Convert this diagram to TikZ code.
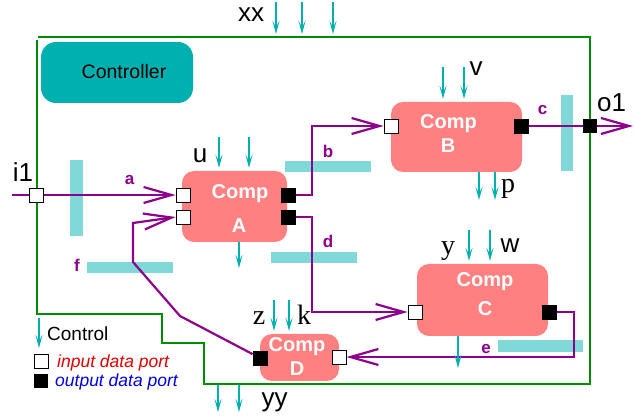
\documentclass[tikz,border=0pt]{standalone}
\usepackage{fontspec}
\setmainfont{Liberation Sans}
\newfontfamily\seriffont{Liberation Serif}
\usetikzlibrary{arrows.meta,backgrounds}
\definecolor{dpurple}{RGB}{140,0,140}
\definecolor{compfill}{RGB}{255,128,128}
\definecolor{ctrlcyan}{RGB}{0,176,176}
\definecolor{barcyan}{RGB}{128,216,216}
\definecolor{bordergreen}{RGB}{0,140,0}
\definecolor{legred}{RGB}{220,0,0}
\definecolor{legblue}{RGB}{0,0,220}
\begin{document}
\begin{tikzpicture}[x=1pt,y=-1pt,
  comp/.style={fill=compfill, rounded corners=12pt, inner sep=0pt},
  port/.style={draw=black, line width=0.8pt, minimum size=14pt, inner sep=0pt, fill=white},
  oport/.style={port, fill=black},
  data/.style={draw=dpurple, line width=2.2pt},
  darrow/.style={data, -{Straight Barb[length=28pt,width=16pt]}},
  ctrl/.style={draw=ctrlcyan, line width=1.6pt, -{Stealth[length=13pt,width=7pt,inset=6pt]}},
  bar/.style={fill=barcyan},
  lbl/.style={font=\fontsize{26pt}{28pt}\selectfont, anchor=base, inner sep=0pt},
  slbl/.style={font=\seriffont\fontsize{28pt}{30pt}\selectfont, anchor=base, inner sep=0pt},
  dlbl/.style={font=\bfseries\fontsize{17pt}{19pt}\selectfont, text=dpurple, anchor=base, inner sep=0pt},
  comptxt/.style={font=\bfseries\fontsize{20pt}{22pt}\selectfont, text=white, anchor=base, inner sep=0pt},
  legtxt/.style={font=\fontsize{17.5pt}{19pt}\selectfont\itshape, anchor=base west, inner sep=0pt},
  border/.style={draw=bordergreen, line width=2.6pt}
]
\useasboundingbox (0,0) rectangle (635,419);

% green system border
\draw[border] (38,37) -- (590,37) -- (590,384) -- (204,384) -- (204,343) -- (162,343) -- (162,314) -- (37,314) -- (37,40);

% controller
\node[comp, fill=ctrlcyan, rounded corners=15pt, minimum width=152pt, minimum height=61pt] (ctl) at (117,72.5) {};
\node[font=\fontsize{19.5pt}{21pt}\selectfont, anchor=base, inner sep=0pt] (ctltxt) at (124,79) {Controller};

% components
\node[comp, minimum width=105pt, minimum height=71pt] (A) at (234.5,206.5) {};
\node[comp, minimum width=131pt, minimum height=70pt] (B) at (456.5,137) {};
\node[comp, minimum width=131pt, minimum height=72pt] (C) at (482.5,300) {};
\node[comp, minimum width=79pt, minimum height=47pt] (D) at (299.5,357.5) {};

\node[comptxt] (At1) at (240,199) {Comp};
\node[comptxt] (At2) at (239,233) {A};
\node[comptxt] (Bt1) at (448.5,129) {Comp};
\node[comptxt] (Bt2) at (448,153) {B};
\node[comptxt] (Ct1) at (485,287) {Comp};
\node[comptxt] (Ct2) at (485,316) {C};
\node[comptxt] (Dt1) at (297,352) {Comp};
\node[comptxt] (Dt2) at (297,376) {D};

% ports
\node[port] (i1) at (36,195) {};
\node[port] (Ain1) at (183,195) {};
\node[port] (Ain2) at (183,217) {};
\node[oport] (Aout1) at (288,195) {};
\node[oport] (Aout2) at (288,217) {};
\node[port] (Bin) at (391,126) {};
\node[oport] (Bout) at (521,126) {};
\node[oport, minimum size=13pt] (o1) at (590,126) {};
\node[port] (Cin) at (415,312) {};
\node[oport] (Cout) at (549,312) {};
\node[oport] (Dout) at (260,358) {};
\node[port] (Din) at (339,357) {};

% coordinates
\coordinate (istart) at (12,195);
\coordinate (oend) at (633,126);
\coordinate (bx) at (312,0);
\coordinate (ex) at (574,0);
\coordinate (f1) at (180,316);
\coordinate (f2) at (133,262);
\coordinate (f3) at (133,223);

\begin{scope}[on background layer]
  % cyan bars
  \fill[bar] (70,160) rectangle (83,236);
  \fill[bar] (285,161) rectangle (371,172);
  \fill[bar] (271,252) rectangle (357,263);
  \fill[bar] (87,262) rectangle (173,273);
  \fill[bar] (561,95) rectangle (573,171);
  \fill[bar] (498,340) rectangle (583,352);
  % data connectors
  \draw[data] (istart) -- (i1.west);
  \draw[darrow] (i1.east) -- (Ain1.west);
  \draw[darrow] (Aout1.east) -| (bx |- Bin.west) -- (Bin.west);
  \draw[data] (Bout.east) -- (o1.west);
  \draw[darrow] (o1.east) -- (oend);
  \draw[darrow] (Aout2.east) -| (bx |- Cin.west) -- (Cin.west);
  \draw[darrow] (Cout.east) -| (ex |- Din.east) -- (Din.east);
  \draw[darrow] (Dout) -- (f1) -- (f2) -- (f3) -- (Ain2.west);
\end{scope}

% data labels
\node[dlbl] (la) at (129.5,185) {a};
\node[dlbl] (lb) at (328,158) {b};
\node[dlbl] (lc) at (542.5,115) {c};
\node[dlbl] (ld) at (328,248) {d};
\node[dlbl] (le) at (486,354) {e};
\node[dlbl] (lf) at (77,272) {f};

% control arrows
\coordinate (x1) at (276,2);
\coordinate (x2) at (302,2);
\coordinate (x3) at (333,2);
\draw[ctrl] (x1) -- (276,34);
\draw[ctrl] (x2) -- (302,34);
\draw[ctrl] (x3) -- (333,34);
\coordinate (uA1) at (219,137);
\coordinate (uA2) at (249,137);
\draw[ctrl, shorten >=3pt] (uA1) -- (uA1 |- A.north);
\draw[ctrl, shorten >=3pt] (uA2) -- (uA2 |- A.north);
\coordinate (oA) at (239,268);
\draw[ctrl] (oA |- A.south) -- (oA);
\coordinate (vB1) at (443,67);
\coordinate (vB2) at (464,67);
\draw[ctrl, shorten >=3pt] (vB1) -- (vB1 |- B.north);
\draw[ctrl, shorten >=3pt] (vB2) -- (vB2 |- B.north);
\coordinate (pB1) at (479,200);
\coordinate (pB2) at (495,200);
\draw[ctrl] (pB1 |- B.south) -- (pB1);
\draw[ctrl] (pB2 |- B.south) -- (pB2);
\coordinate (wC1) at (469,230);
\coordinate (wC2) at (490,230);
\draw[ctrl, shorten >=3pt] (wC1) -- (wC1 |- C.north);
\draw[ctrl, shorten >=3pt] (wC2) -- (wC2 |- C.north);
\coordinate (oC) at (458,368);
\draw[ctrl] (oC |- C.south) -- (oC);
\coordinate (zD1) at (274,300);
\coordinate (zD2) at (289,300);
\draw[ctrl, shorten >=3pt] (zD1) -- (zD1 |- D.north);
\draw[ctrl, shorten >=3pt] (zD2) -- (zD2 |- D.north);
\coordinate (y1s) at (218,385);
\coordinate (y2s) at (239,385);
\draw[ctrl] (y1s) -- (218,412);
\draw[ctrl] (y2s) -- (239,412);

% labels
\node[lbl] (lxx) at (251,22) {xx};
\node[lbl] (li1) at (23,182) {i1};
\node[lbl] (lo1) at (611.5,112) {o1};
\node[lbl] (lu) at (200,163) {u};
\node[lbl] (lv) at (476,76) {v};
\node[slbl] (lp) at (508,193) {p};
\node[slbl] (ly) at (448,255) {y};
\node[lbl] (lw) at (510,253) {w};
\node[slbl] (lz) at (259,325) {z};
\node[slbl] (lk) at (304,325) {k};
\node[lbl] (lyy) at (274.5,407) {yy};

% legend
\coordinate (legc) at (39,318);
\draw[ctrl] (legc) -- (39,348);
\node[font=\fontsize{19pt}{21pt}\selectfont, anchor=base west, inner sep=0pt] (legctl) at (47,341) {Control};
\node[port] (legin) at (41,361) {};
\node[legtxt, text=legred] (legintxt) at (57,368) {input data port};
\node[oport, minimum size=13pt] (legout) at (40.5,381) {};
\node[legtxt, text=legblue] (legouttxt) at (55,387) {output data port};
\end{tikzpicture}
\end{document}
